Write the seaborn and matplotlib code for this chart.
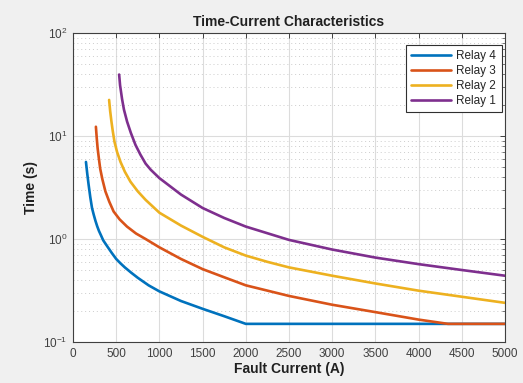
import matplotlib
matplotlib.use("Agg")
import matplotlib.pyplot as plt
import matplotlib.ticker as mticker
import seaborn as sns
import pandas as pd
import numpy as np

# ---- data ----
relay4_I = [150, 165, 180, 200, 220, 240, 260, 280, 300, 325, 350, 400, 450, 500, 550, 600, 675, 750, 875, 1000,
            1250, 1500, 1750, 2000, 2500, 3000, 3500, 4000, 4500, 5000]
relay4_t = [5.6, 4.3, 3.4, 2.55, 2.0, 1.72, 1.5, 1.33, 1.2, 1.08, 0.97, 0.84, 0.73, 0.64, 0.58, 0.53, 0.47, 0.42, 0.355, 0.31,
            0.25, 0.21, 0.178, 0.15, 0.15, 0.15, 0.15, 0.15, 0.15, 0.15]

relay3_I = [265, 275, 285, 300, 315, 340, 375, 420, 470, 540, 625, 730, 840, 1000, 1250, 1500, 1750, 2000,
            2500, 3000, 3500, 4000, 4340, 4700, 5000]
relay3_t = [12.3, 9.5, 7.6, 6.0, 4.8, 3.8, 2.9, 2.3, 1.85, 1.55, 1.32, 1.13, 1.0, 0.83, 0.64, 0.51, 0.425, 0.355,
            0.28, 0.23, 0.195, 0.165, 0.15, 0.15, 0.15]

relay2_I = [418, 430, 445, 460, 480, 510, 550, 600, 665, 750, 840, 1000, 1250, 1500, 1750, 2000, 2250,
            2500, 3000, 3500, 4000, 4500, 5000]
relay2_t = [22.4, 17.5, 13.8, 11.2, 8.8, 7.0, 5.6, 4.5, 3.6, 2.9, 2.4, 1.8, 1.35, 1.05, 0.83, 0.69, 0.60,
            0.53, 0.44, 0.37, 0.315, 0.275, 0.24]

relay1_I = [534, 545, 568, 590, 626, 670, 723, 780, 840, 900, 1000, 1250, 1500, 1750, 2000,
            2500, 3000, 3500, 4000, 4500, 5000]
relay1_t = [39.5, 31.0, 22.8, 18.0, 13.8, 10.7, 8.2, 6.6, 5.4, 4.7, 3.9, 2.7, 2.0, 1.6, 1.32,
            0.98, 0.79, 0.66, 0.57, 0.50, 0.44]

series_names = ["Relay 4", "Relay 3", "Relay 2", "Relay 1"]
colors = ["#0072BD", "#D95319", "#EDB120", "#7E2F8E"]
x_ticks = [0, 500, 1000, 1500, 2000, 2500, 3000, 3500, 4000, 4500, 5000]

frames = []
for name, I, t in zip(series_names,
                      [relay4_I, relay3_I, relay2_I, relay1_I],
                      [relay4_t, relay3_t, relay2_t, relay1_t]):
    frames.append(pd.DataFrame({"I": I, "t": t, "Relay": name}))
df = pd.concat(frames, ignore_index=True)

sns.set_style("white")
plt.rcParams['font.family'] = ['Liberation Sans', 'DejaVu Sans']
plt.rcParams['mathtext.default'] = 'regular'

fig = plt.figure(figsize=(5.23, 3.83), dpi=100, facecolor="#f0f0f0")
ax = fig.add_axes([73/523, 1 - 342/383, 432/523, 309/383])
ax.set_facecolor("white")

sns.lineplot(data=df, x="I", y="t", hue="Relay", hue_order=series_names,
             palette=colors, linewidth=1.9, ax=ax, sort=False, estimator=None)
for ln in ax.get_lines():
    ln.set_solid_joinstyle("round")

ax.set_yscale("log")
ax.set_xlim(0, 5000)
ax.set_ylim(0.1, 100)
ax.set_xticks(x_ticks)
ax.xaxis.set_major_formatter(mticker.FuncFormatter(lambda v, p: f"{int(v)}"))
ax.yaxis.set_major_locator(mticker.LogLocator(base=10, numticks=10))
ax.yaxis.set_minor_locator(mticker.LogLocator(base=10, subs=np.arange(2, 10), numticks=20))
ax.yaxis.set_major_formatter(mticker.LogFormatterMathtext())
ax.yaxis.set_minor_formatter(mticker.NullFormatter())

ax.grid(True, which="major", color="#dcdcdc", linewidth=0.8, linestyle="-")
ax.grid(True, which="minor", axis="y", color="#cccccc", linewidth=0.7, linestyle=(0, (1, 3)))
ax.set_axisbelow(True)

ax.tick_params(axis="both", which="both", direction="in", top=True, right=True,
               labelsize=8.5, labelcolor="#404040", color="#404040")
ax.tick_params(axis="both", which="major", length=3.5, width=0.7, pad=4)
ax.tick_params(axis="y", which="minor", length=2, width=0.5)
for s in ax.spines.values():
    s.set_color("#404040")
    s.set_linewidth(0.8)

ax.set_title("Time-Current Characteristics", fontsize=10, fontweight="bold", color="#202020", pad=5)
ax.set_xlabel("Fault Current (A)", fontsize=10, fontweight="bold", color="#202020", labelpad=2)
ax.set_ylabel("Time (s)", fontsize=10, fontweight="bold", color="#202020", labelpad=4)

leg = ax.legend(loc="upper right", bbox_to_anchor=(0.992, 0.962), borderaxespad=0,
                frameon=True, fancybox=False, fontsize=8.5, handlelength=3.4,
                handletextpad=0.45, labelspacing=0.25, borderpad=0.45)
leg.get_frame().set_edgecolor("#303030")
leg.get_frame().set_linewidth(0.8)
leg.get_frame().set_facecolor("white")
leg.get_frame().set_alpha(1)
for line in leg.get_lines():
    line.set_linewidth(1.9)

fig.savefig("out.png", dpi=100, facecolor=fig.get_facecolor())
